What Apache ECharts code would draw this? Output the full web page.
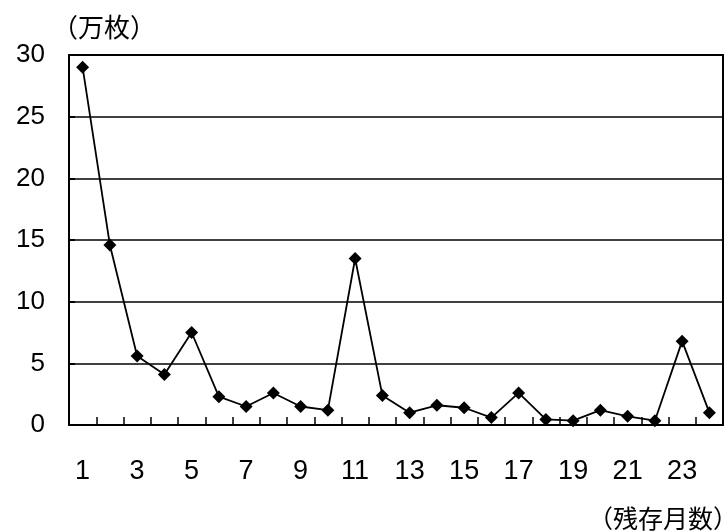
<!DOCTYPE html>
<html><head><meta charset="utf-8">
<script src="https://cdn.jsdelivr.net/npm/echarts@6/dist/echarts.min.js"></script>
<style>html,body{margin:0;padding:0;background:#fff}#c{width:728px;height:531px}</style>
</head><body><div id="c"></div>
<script>
const categories = ['1','2','3','4','5','6','7','8','9','10','11','12','13','14','15','16','17','18','19','20','21','22','23','24'];
const values = [29.0,14.6,5.6,4.1,7.5,2.3,1.5,2.6,1.5,1.2,13.5,2.4,1.0,1.6,1.4,0.6,2.6,0.45,0.35,1.2,0.7,0.35,6.8,1.0];
const yUnit = '（万枚）';
const xUnit = '（残存月数）';
const cjk = '"Noto Sans CJK JP", sans-serif';
const num = '"Liberation Sans", Arial, sans-serif';
const chart = echarts.init(document.getElementById('c'));
chart.setOption({
  animation:false,
  backgroundColor:'#fff',
  graphic:[
    {type:'text',left:52,top:14,style:{text:yUnit,fontFamily:cjk,fontSize:26,fill:'#000'},z:10},
    {type:'text',left:588,top:506,style:{text:xUnit,fontFamily:cjk,fontSize:25,fill:'#000'},z:10}
  ],
  grid:{left:69,right:5,top:55,bottom:106,show:true,borderColor:'#000',borderWidth:2,backgroundColor:'transparent'},
  xAxis:{type:'category',data:categories,boundaryGap:true,
    axisLine:{lineStyle:{color:'#000',width:2}},
    axisTick:{show:true,inside:true,length:8,interval:0,lineStyle:{color:'#000',width:1.5}},
    axisLabel:{interval:1,margin:33,fontFamily:num,fontSize:27,color:'#000'},
    splitLine:{show:false}},
  yAxis:{type:'value',min:0,max:30,interval:5,
    axisLine:{show:true,lineStyle:{color:'#000',width:2}},
    axisTick:{show:true,inside:true,length:6,lineStyle:{color:'#000',width:2}},
    axisLabel:{margin:24,fontFamily:num,fontSize:26,color:'#000'},
    splitLine:{show:true,lineStyle:{color:'#000',width:1.5}}},
  series:[{type:'line',data:values,symbol:'diamond',symbolSize:13,
    lineStyle:{color:'#000',width:1.8},itemStyle:{color:'#000'}}]
});
</script></body></html>
